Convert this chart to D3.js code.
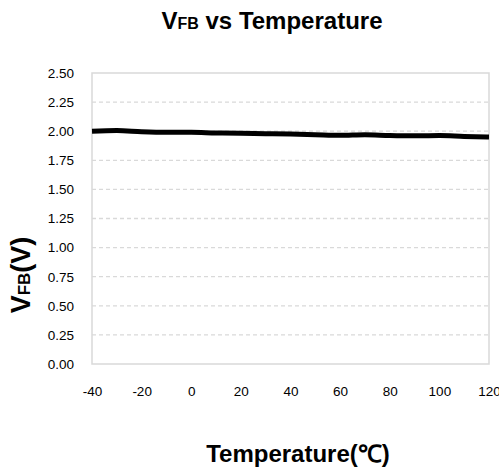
<!DOCTYPE html>
<html>
<head>
<meta charset="utf-8">
<script src="https://cdn.jsdelivr.net/npm/d3@7"></script>
<style>
  body { margin: 0; background: #fff; }
  svg { display: block; }
</style>
</head>
<body>
<div id="chart"></div>
<script>
// ----- data ----- //
var temps = [-40, -30, -20, -10, 0, 10, 20, 30, 40, 50, 60, 70, 80, 90, 100, 110, 120];
var vfb = [2.00, 2.005, 1.995, 1.99, 1.99, 1.985, 1.983, 1.978, 1.975, 1.97, 1.965, 1.97, 1.963, 1.96, 1.962, 1.955, 1.95];
var xTicks = [-40, -20, 0, 20, 40, 60, 80, 100, 120];
var yTicks = [0, 0.25, 0.5, 0.75, 1.0, 1.25, 1.5, 1.75, 2.0, 2.25, 2.5];

var width = 499, height = 467;
var plotLeft = 92, plotRight = 489, plotTop = 73, plotBottom = 364;

var svg = d3.select("#chart")
    .append("svg")
    .attr("width", width)
    .attr("height", height)
    .style("font-family", "'Liberation Sans', Arial, sans-serif");

var x = d3.scaleLinear().domain([-40, 120]).range([plotLeft, plotRight]);
var y = d3.scaleLinear().domain([0, 2.5]).range([plotBottom, plotTop]);

// gridlines (dashed)
svg.append("g")
    .selectAll("line")
    .data(yTicks.filter(function (d) { return d > 0 && d < 2.5; }))
    .enter()
    .append("line")
    .attr("x1", plotLeft)
    .attr("x2", plotRight)
    .attr("y1", function (d) { return y(d); })
    .attr("y2", function (d) { return y(d); })
    .attr("stroke", "#d9d9d9")
    .attr("stroke-width", 1.3)
    .attr("stroke-dasharray", "4,3");

// plot frame
svg.append("rect")
    .attr("x", plotLeft)
    .attr("y", y(2.5))
    .attr("width", plotRight - plotLeft)
    .attr("height", y(0) - y(2.5))
    .attr("fill", "none")
    .attr("stroke", "#d9d9d9")
    .attr("stroke-width", 1.5);

// y axis
var yAxis = svg.append("g")
    .attr("transform", "translate(" + plotLeft + ",0)")
    .call(d3.axisLeft(y).tickValues(yTicks).tickFormat(d3.format(".2f")).tickSize(0).tickPadding(18));
yAxis.select(".domain").remove();
yAxis.selectAll("text").attr("font-size", 13.5).attr("fill", "#000").attr("font-family", "'Liberation Sans', Arial, sans-serif");

// x axis
var xAxis = svg.append("g")
    .attr("transform", "translate(0," + plotBottom + ")")
    .call(d3.axisBottom(x).tickValues(xTicks).tickFormat(function (d) { return String(d); }).tickSize(0).tickPadding(22));
xAxis.select(".domain").remove();
xAxis.selectAll("text").attr("font-size", 13.5).attr("fill", "#000").attr("font-family", "'Liberation Sans', Arial, sans-serif");

// line
var line = d3.line()
    .x(function (d, i) { return x(temps[i]); })
    .y(function (d) { return y(d); })
    .curve(d3.curveMonotoneX);

svg.append("path")
    .datum(vfb)
    .attr("fill", "none")
    .attr("stroke", "#000")
    .attr("stroke-width", 5)
    .attr("d", line);

// title
var title = svg.append("text")
    .attr("x", 272)
    .attr("y", 29)
    .attr("text-anchor", "middle")
    .attr("font-weight", "bold")
    .attr("font-size", 24);
title.append("tspan").text("V");
title.append("tspan").attr("font-size", 16).text("FB");
title.append("tspan").text(" vs Temperature");

// y title
var ytitle = svg.append("text")
    .attr("transform", "translate(30,275) rotate(-90)")
    .attr("text-anchor", "middle")
    .attr("font-weight", "bold")
    .attr("font-size", 27);
ytitle.append("tspan").text("V");
ytitle.append("tspan").attr("font-size", 17).text("FB");
ytitle.append("tspan").text("(V)");

// x title
svg.append("text")
    .attr("x", 298)
    .attr("y", 462)
    .attr("text-anchor", "middle")
    .attr("font-weight", "bold")
    .attr("font-size", 24)
    .text("Temperature(℃)");
</script>
</body>
</html>
